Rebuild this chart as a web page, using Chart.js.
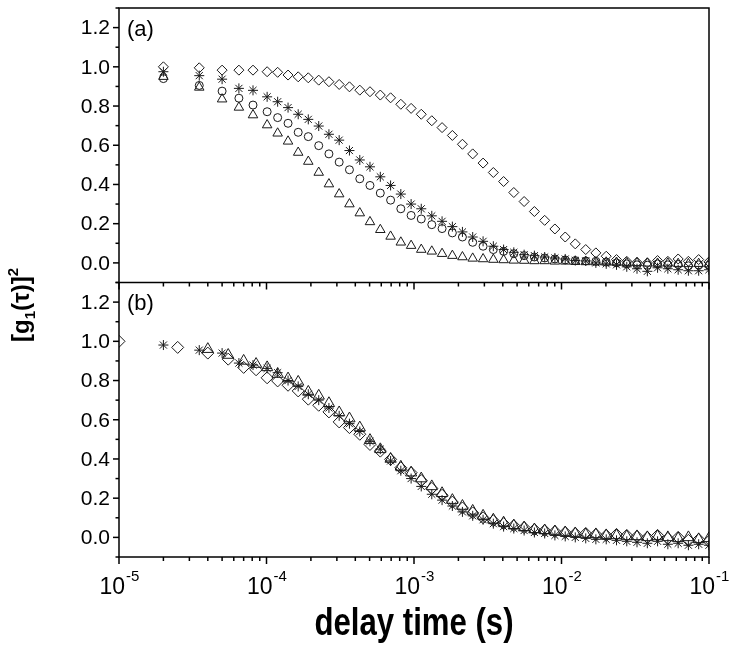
<!DOCTYPE html>
<html>
<head>
<meta charset="utf-8">
<script src="https://cdn.jsdelivr.net/npm/chart.js@4.4.1/dist/chart.umd.min.js"></script>
<style>
  body { margin: 0; background: #fff; }
  canvas { display: block; }
</style>
</head>
<body>
<canvas id="chart" width="733" height="650"></canvas>
<script>
// lag times (s) of the correlator, panel (a) and asterisks of panel (b)
var lagA = [2.0e-5, 3.5e-5, 5.0e-5, 6.5e-5, 8.1e-5,
  1.01e-4, 1.19e-4, 1.40e-4, 1.64e-4, 1.92e-4, 2.26e-4, 2.65e-4, 3.11e-4, 3.65e-4, 4.29e-4,
  5.03e-4, 5.91e-4, 6.94e-4, 8.14e-4, 9.56e-4, 1.12e-3, 1.32e-3, 1.55e-3, 1.82e-3, 2.13e-3,
  2.50e-3, 2.94e-3, 3.45e-3, 4.05e-3, 4.75e-3, 5.58e-3, 6.55e-3, 7.69e-3, 9.02e-3, 1.06e-2,
  1.24e-2, 1.46e-2, 1.71e-2, 2.01e-2, 2.36e-2, 2.77e-2, 3.25e-2, 3.82e-2, 4.48e-2, 5.26e-2,
  6.18e-2, 7.25e-2, 8.51e-2, 9.99e-2];
// lag times (s) for diamonds / triangles of panel (b)
var lagB = [1.0e-5, 2.5e-5, 4.0e-5, 5.5e-5, 7.0e-5, 8.5e-5,
  1.01e-4, 1.19e-4, 1.40e-4, 1.64e-4, 1.92e-4, 2.26e-4, 2.65e-4, 3.11e-4, 3.65e-4, 4.29e-4,
  5.03e-4, 5.91e-4, 6.94e-4, 8.14e-4, 9.56e-4, 1.12e-3, 1.32e-3, 1.55e-3, 1.82e-3, 2.13e-3,
  2.50e-3, 2.94e-3, 3.45e-3, 4.05e-3, 4.75e-3, 5.58e-3, 6.55e-3, 7.69e-3, 9.02e-3, 1.06e-2,
  1.24e-2, 1.46e-2, 1.71e-2, 2.01e-2, 2.36e-2, 2.77e-2, 3.25e-2, 3.82e-2, 4.48e-2, 5.26e-2,
  6.18e-2, 7.25e-2, 8.51e-2, 9.99e-2];

// panel (a)
var diamondsA = [1.00, 0.995, 0.983, 0.983, 0.983,
  0.975, 0.972, 0.958, 0.949, 0.944, 0.932, 0.924, 0.91, 0.898, 0.881,
  0.873, 0.856, 0.842, 0.809, 0.788, 0.758, 0.725, 0.69, 0.65, 0.605,
  0.556, 0.509, 0.461, 0.415, 0.359, 0.313, 0.262, 0.217, 0.173, 0.132,
  0.097, 0.068, 0.051, 0.034, 0.017, 0.008, 0.003, 0.0, 0.012, 0.008,
  0.02, 0.008, 0.017, 0.005];
var starsA = [0.975, 0.955, 0.937, 0.89, 0.88,
  0.847, 0.822, 0.792, 0.758, 0.732, 0.698, 0.656, 0.626, 0.573, 0.525,
  0.49, 0.439, 0.395, 0.351, 0.30, 0.276, 0.24, 0.212, 0.185, 0.158,
  0.132, 0.11, 0.085, 0.068, 0.054, 0.042, 0.037, 0.03, 0.025, 0.02,
  0.012, 0.01, 0.0, -0.005, -0.01, -0.02, -0.03, -0.043, -0.025, -0.03,
  -0.035, -0.04, -0.04, -0.035];
var circlesA = [0.94, 0.905, 0.876, 0.84, 0.805,
  0.771, 0.741, 0.712, 0.666, 0.644, 0.598, 0.556, 0.514, 0.475, 0.429,
  0.395, 0.356, 0.32, 0.276, 0.242, 0.224, 0.195, 0.175, 0.153, 0.132,
  0.105, 0.085, 0.068, 0.059, 0.047, 0.037, 0.03, 0.025, 0.02, 0.015,
  0.012, 0.01, 0.008, 0.004, 0.0, -0.005, -0.01, -0.012, -0.005, -0.01,
  -0.008, -0.015, -0.01, -0.012];
var trianglesA = [0.95, 0.895, 0.835, 0.793, 0.754,
  0.703, 0.661, 0.62, 0.563, 0.517, 0.461, 0.402, 0.351, 0.30, 0.254,
  0.209, 0.169, 0.135, 0.105, 0.088, 0.068, 0.059, 0.047, 0.037, 0.03,
  0.023, 0.02, 0.017, 0.015, 0.013, 0.012, 0.01, 0.01, 0.008, 0.008,
  0.006, 0.005, 0.004, 0.003, 0.002, 0.0, 0.0, -0.002, -0.003, -0.002,
  -0.004, -0.005, -0.004, -0.006];

// panel (b)
var starsB = [0.981, 0.955, 0.94, 0.889, 0.879,
  0.862, 0.84, 0.80, 0.77, 0.73, 0.70, 0.66, 0.62, 0.58, 0.54,
  0.49, 0.45, 0.39, 0.34, 0.30, 0.26, 0.22, 0.19, 0.16, 0.13,
  0.11, 0.09, 0.07, 0.055, 0.045, 0.035, 0.025, 0.02, 0.01, 0.005,
  0.0, -0.005, -0.01, -0.01, -0.015, -0.02, -0.025, -0.03, -0.02, -0.035,
  -0.03, -0.04, -0.035, -0.04];
var diamondsB = [1.0, 0.969, 0.94, 0.909, 0.867, 0.855,
  0.814, 0.798, 0.776, 0.747, 0.705, 0.674, 0.64, 0.589, 0.56, 0.526,
  0.474, 0.44, 0.398, 0.355, 0.33, 0.29, 0.25, 0.215, 0.18, 0.15,
  0.125, 0.10, 0.085, 0.07, 0.06, 0.05, 0.04, 0.035, 0.03, 0.025,
  0.02, 0.02, 0.015, 0.01, 0.015, 0.01, 0.005, 0.0, 0.01, -0.005,
  0.0, -0.015, -0.01, -0.02];
var trianglesB = [0.96, 0.93, 0.90, 0.884,
  0.867, 0.833, 0.81, 0.793, 0.742, 0.722, 0.684, 0.637, 0.606, 0.56,
  0.496, 0.449, 0.40, 0.36, 0.33, 0.30, 0.26, 0.225, 0.19, 0.16,
  0.135, 0.11, 0.09, 0.075, 0.06, 0.05, 0.04, 0.035, 0.03, 0.025,
  0.02, 0.015, 0.015, 0.01, 0.01, 0.005, 0.005, 0.0, 0.005, 0.0,
  -0.005, 0.0, -0.01, -0.005];

// axis ticks
var yMajor = [0, 0.2, 0.4, 0.6, 0.8, 1.0, 1.2];
var yTickText = ['0.0', '0.2', '0.4', '0.6', '0.8', '1.0', '1.2'];
var yMinor = [-0.1, 0.1, 0.3, 0.5, 0.7, 0.9, 1.1, 1.3];
var xDecades = [1e-5, 1e-4, 1e-3, 1e-2, 1e-1];
var xTickExp = ['-5', '-4', '-3', '-2', '-1'];

var FONT = "'Liberation Sans', Arial, Helvetica, sans-serif";
var INK = '#1a1a1a';

function pts(xs, ys) {
  return ys.map(function (y, i) { return {x: xs[i], y: y}; });
}

function marker(style, r, data, axis) {
  return {
    data: data,
    yAxisID: axis,
    pointStyle: style,
    pointRadius: r,
    pointHoverRadius: r,
    pointBorderWidth: 1,
    borderColor: INK,
    backgroundColor: 'rgba(0,0,0,0)',
    showLine: false,
    clip: 0
  };
}

// frame, tick marks, tick labels and titles
var frame = {
  id: 'frame',
  beforeDraw: function (chart) {
    var ctx = chart.ctx;
    ctx.save();
    ctx.fillStyle = '#fff';
    ctx.fillRect(0, 0, chart.width, chart.height);
    ctx.restore();
  },
  afterDraw: function (chart) {
    var ctx = chart.ctx, a = chart.chartArea;
    var xs = chart.scales.x, ya = chart.scales.ya, yb = chart.scales.yb;
    var mid = ya.getPixelForValue(-0.1);

    function seg(x1, y1, x2, y2) {
      ctx.beginPath(); ctx.moveTo(x1, y1); ctx.lineTo(x2, y2); ctx.stroke();
    }

    ctx.save();
    ctx.strokeStyle = '#000';
    ctx.fillStyle = '#000';
    ctx.lineWidth = 1.5;
    ctx.strokeRect(a.left, a.top, a.right - a.left, a.bottom - a.top);
    seg(a.left, mid, a.right, mid);

    // y axes
    ctx.font = '21px ' + FONT;
    ctx.textAlign = 'right';
    ctx.textBaseline = 'middle';
    [ya, yb].forEach(function (s) {
      yMajor.forEach(function (v, i) {
        var py = s.getPixelForValue(v);
        seg(a.left - 6, py, a.left, py);
        ctx.fillText(yTickText[i], a.left - 9, py + 1);
      });
      yMinor.forEach(function (v) {
        var py = s.getPixelForValue(v);
        seg(a.left - 3.5, py, a.left, py);
      });
    });

    // x ticks, on the panel boundary and on the bottom
    [mid, a.bottom].forEach(function (base) {
      xDecades.forEach(function (d, i) {
        var px = xs.getPixelForValue(d);
        seg(px, base, px, base + 7);
        if (i < xDecades.length - 1) {
          for (var m = 2; m <= 9; m++) {
            var q = xs.getPixelForValue(d * m);
            seg(q, base, q, base + 4);
          }
        }
      });
    });

    // x labels 10^n
    ctx.textAlign = 'left';
    ctx.textBaseline = 'alphabetic';
    xDecades.forEach(function (d, i) {
      var px = xs.getPixelForValue(d);
      ctx.font = '23px ' + FONT;
      var w1 = ctx.measureText('10').width;
      ctx.font = '15px ' + FONT;
      var w2 = ctx.measureText(xTickExp[i]).width;
      var x0 = px - (w1 + w2) / 2;
      ctx.font = '23px ' + FONT;
      ctx.fillText('10', x0, a.bottom + 37);
      ctx.font = '15px ' + FONT;
      ctx.fillText(xTickExp[i], x0 + w1 + 1, a.bottom + 24);
    });

    // x title
    ctx.save();
    ctx.font = 'bold 38px ' + FONT;
    ctx.textAlign = 'center';
    ctx.translate((a.left + a.right) / 2, a.bottom + 78);
    ctx.scale(0.82, 1);
    ctx.fillText('delay time (s)', 0, 0);
    ctx.restore();

    // y title [g1(τ)]^2
    ctx.save();
    ctx.translate(29, 342);
    ctx.rotate(-Math.PI / 2);
    var parts = [['[g', 24, 0], ['1', 15, 6], ['(τ)]', 24, 0], ['2', 15, -11]];
    var x = 0;
    parts.forEach(function (p) {
      ctx.font = 'bold ' + p[1] + 'px ' + FONT;
      ctx.fillText(p[0], x, p[2]);
      x += ctx.measureText(p[0]).width;
    });
    ctx.restore();

    // panel labels
    ctx.font = '22px ' + FONT;
    ctx.fillText('(a)', a.left + 8, ya.getPixelForValue(1.2) + 8);
    ctx.fillText('(b)', a.left + 8, yb.getPixelForValue(1.2) + 8);
    ctx.restore();
  }
};

new Chart(document.getElementById('chart').getContext('2d'), {
  type: 'scatter',
  data: {
    datasets: [
      marker('rectRot', 5, pts(lagA, diamondsA), 'ya'),
      marker('star', 5, pts(lagA, starsA), 'ya'),
      marker('circle', 4, pts(lagA, circlesA), 'ya'),
      marker('triangle', 5.5, pts(lagA, trianglesA), 'ya'),
      marker('star', 5, pts(lagA, starsB), 'yb'),
      marker('rectRot', 6, pts(lagB, diamondsB), 'yb'),
      marker('triangle', 6.5, pts(lagB.slice(2), trianglesB), 'yb')
    ]
  },
  options: {
    responsive: false,
    animation: false,
    devicePixelRatio: 1,
    layout: { padding: { left: 119, right: 24, top: 8, bottom: 93 } },
    plugins: { legend: { display: false }, tooltip: { enabled: false } },
    scales: {
      x: { type: 'logarithmic', min: 1e-5, max: 1e-1, display: false },
      // both panels share the plot area: (a) is the upper half, (b) the lower half
      ya: { type: 'linear', position: 'left', min: -1.5, max: 1.3, display: false },
      yb: { type: 'linear', position: 'left', min: -0.1, max: 2.7, display: false }
    }
  },
  plugins: [frame]
});
</script>
</body>
</html>
